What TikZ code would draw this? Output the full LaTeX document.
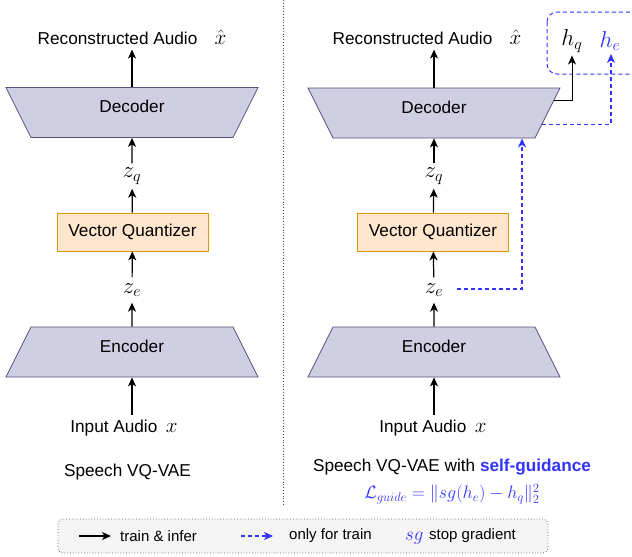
\RequirePackage{fix-cm}
\documentclass[tikz,border=0pt]{standalone}
\usepackage{amsmath}
\usepackage{fontspec}
\setmainfont{Liberation Sans}
\usepackage{xcolor}
\usetikzlibrary{arrows.meta, positioning, shapes.geometric}

\definecolor{coderfill}{HTML}{D0CEE2}
\definecolor{coderline}{HTML}{56517E}
\definecolor{vqfill}{HTML}{FFE6CC}
\definecolor{vqline}{HTML}{D79B00}
\definecolor{guideblue}{HTML}{3333FF}
\definecolor{legendfill}{HTML}{F5F5F5}

\newcommand{\mbig}[1]{{\fontsize{21}{24}\selectfont$#1$}}

\begin{document}
\begin{tikzpicture}[x=1pt, y=1pt,
	txt/.style={font=\fontsize{17.2}{20}\selectfont, inner sep=0pt},
	mth/.style={font=\fontsize{23}{26}\selectfont, inner sep=0pt, minimum height=25pt},
	legtxt/.style={font=\fontsize{15}{18}\selectfont, inner sep=0pt, anchor=west},
	coder/.style={trapezium, trapezium left angle=63.4, trapezium right angle=63.4,
		draw=coderline, fill=coderfill, line width=0.8pt, text width=202pt, align=center,
		text height=25pt, text depth=25pt, inner sep=0pt, font=\fontsize{17.2}{20}\selectfont},
	quant/.style={rectangle, draw=vqline, fill=vqfill, line width=0.8pt, minimum width=151pt,
		minimum height=38pt, inner sep=0pt, font=\fontsize{17.2}{20}\selectfont},
	flow/.style={line width=1.2pt, -{Stealth[length=9pt, width=8pt, inset=2.5pt]}},
	trainonly/.style={draw=guideblue, line width=1.2pt, dash pattern=on 4pt off 3pt,
		-{Stealth[length=9pt, width=8pt, inset=2.5pt, fill=guideblue]}}]
	\useasboundingbox (0,0) rectangle (632,-557);

	% Divider
	\draw[dotted, line width=0.8pt, black!70] (283,0) -- (283,-505);

	% Left: plain VQ-VAE
	\node[coder, shape border rotate=180] (dec1) at (132,-112.5) {Decoder};
	\node[coder] (enc1) at (132,-352) {Encoder};
	\node[quant] (vq1) at (132.5,-232) {Vector Quantizer};
	\node[mth] (zq1) at (132,-176) {$z_q$};
	\node[mth] (ze1) at (132,-290) {$z_e$};
	\node[txt, inner sep=5pt] (rec1) at (132,-37) {Reconstructed Audio\quad\mbig{\hat{x}}};
	\node[txt, inner sep=5pt] (in1) at (124,-428) {Input Audio\enspace\mbig{x}};
	\node[txt] (cap1) at (127.5,-472) {Speech VQ-VAE};

	\draw[flow] (in1.north -| enc1.south) -- (enc1.south);
	\draw[flow] (enc1) -- (ze1);
	\draw[flow] (ze1) -- (vq1);
	\draw[flow] (vq1) -- (zq1);
	\draw[flow] (zq1) -- (dec1);
	\draw[flow] (dec1.north) -- (dec1.north |- rec1.south);

	% Right: VQ-VAE with self-guidance
	\node[coder, shape border rotate=180] (dec2) at (434,-113) {Decoder};
	\node[coder] (enc2) at (434,-352) {Encoder};
	\node[quant] (vq2) at (433,-232) {Vector Quantizer};
	\node[mth] (zq2) at (434,-176) {$z_q$};
	\node[mth] (ze2) at (434,-290) {$z_e$};
	\node[txt, inner sep=5pt] (rec2) at (427,-37) {Reconstructed Audio\quad\mbig{\hat{x}}};
	\node[txt, inner sep=5pt] (in2) at (433,-428) {Input Audio\enspace\mbig{x}};
	\node[txt] (cap2) at (452,-467) {Speech VQ-VAE with \textbf{\color{guideblue}self-guidance}};
	\node[inner sep=0pt, font=\fontsize{18}{20}\selectfont, text=guideblue] (loss) at (452,-494)
		{$\mathcal{L}_{guide} = \| sg(h_e) - h_q \|_2^2$};

	\draw[flow] (in2.north -| enc2.south) -- (enc2.south);
	\draw[flow] (enc2) -- (ze2);
	\draw[flow] (ze2) -- (vq2);
	\draw[flow] (vq2) -- (zq2);
	\draw[flow] (zq2) -- (dec2);
	\draw[flow] (dec2.north) -- (dec2.north |- rec2.south);

	% Hidden features of the decoder
	\draw[guideblue, line width=1pt, dash pattern=on 4pt off 3pt, rounded corners=10pt]
		(547,-12) rectangle (650,-74);
	\node[mth, minimum height=0pt, inner sep=3pt] (hq) at (572,-41) {$h_q$};
	\node[mth, minimum height=0pt, inner sep=3pt, text=guideblue] (he) at (610,-41) {$h_e$};

	\draw[flow, line width=1pt] (dec2.6.6) -| (hq.south);
	\draw[trainonly] (dec2.-6.9) -| ([xshift=1pt]he.south);
	\draw[trainonly] ([xshift=14pt,yshift=1pt]ze2.east) -| ([xshift=88pt]dec2.south);

	% Legend
	\node[draw=black!60, dotted, line width=0.8pt, fill=legendfill, rounded corners=5pt,
		minimum width=490pt, minimum height=34pt] (legend) at (303,-536) {};
	\node[legtxt] (lg1) at (120,-536) {train \& infer};
	\node[legtxt] (lg2) at (289,-536) {only for train};
	\node[legtxt, text=guideblue, font=\fontsize{19}{20}\selectfont] (lg3) at (405,-538) {$sg$};
	\node[legtxt] (lg4) at (429,-536) {stop gradient};
	\coordinate (la1) at (79,-536);
	\coordinate (la2) at (241,-536);
	\draw[flow] (la1) -- ([xshift=-9pt]lg1.west);
	\draw[trainonly] (la2) -- ([xshift=-16pt]lg2.west);
\end{tikzpicture}
\end{document}
